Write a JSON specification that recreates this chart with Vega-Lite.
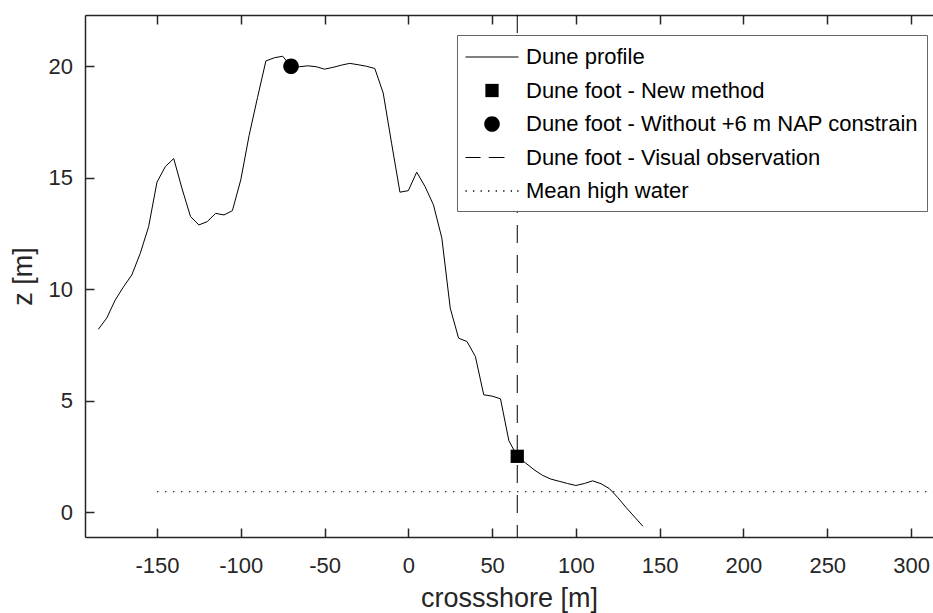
{
  "$schema": "https://vega.github.io/schema/vega-lite/v6.json",
  "width": 848,
  "height": 522,
  "autosize": {"type": "none"},
  "padding": {"left": 85, "top": 15, "right": 0, "bottom": 76},
  "background": "white",
  "config": {
    "view": {"stroke": null},
    "axis": {
      "labelFont": "Liberation Sans",
      "titleFont": "Liberation Sans",
      "labelFontSize": 22,
      "titleFontSize": 27,
      "titleFontWeight": "normal",
      "labelColor": "#262626",
      "titleColor": "#262626",
      "domainColor": "#262626",
      "tickColor": "#262626",
      "domainWidth": 1.5,
      "tickWidth": 1.5,
      "tickSize": -9,
      "grid": false
    }
  },
  "datasets": {
    "profile": [
      {"x": -185, "z": 8.2}, {"x": -180, "z": 8.7}, {"x": -175, "z": 9.5}, {"x": -170, "z": 10.1},
      {"x": -165, "z": 10.64}, {"x": -160, "z": 11.6}, {"x": -155, "z": 12.8}, {"x": -150, "z": 14.8},
      {"x": -145, "z": 15.5}, {"x": -140, "z": 15.86}, {"x": -135, "z": 14.5}, {"x": -130, "z": 13.26},
      {"x": -125, "z": 12.88}, {"x": -120, "z": 13.03}, {"x": -115, "z": 13.4}, {"x": -110, "z": 13.33},
      {"x": -105, "z": 13.52}, {"x": -100, "z": 14.9}, {"x": -95, "z": 16.9}, {"x": -90, "z": 18.6},
      {"x": -85, "z": 20.24}, {"x": -80, "z": 20.38}, {"x": -75, "z": 20.45}, {"x": -70, "z": 20.0},
      {"x": -65, "z": 19.98}, {"x": -60, "z": 20.02}, {"x": -55, "z": 19.98}, {"x": -50, "z": 19.87},
      {"x": -45, "z": 19.95}, {"x": -40, "z": 20.05}, {"x": -35, "z": 20.13}, {"x": -30, "z": 20.07},
      {"x": -25, "z": 20.0}, {"x": -20, "z": 19.9}, {"x": -15, "z": 18.8}, {"x": -10, "z": 16.55},
      {"x": -5, "z": 14.35}, {"x": 0, "z": 14.42}, {"x": 5, "z": 15.25}, {"x": 10, "z": 14.6},
      {"x": 15, "z": 13.78}, {"x": 20, "z": 12.29}, {"x": 25, "z": 9.15}, {"x": 30, "z": 7.8},
      {"x": 35, "z": 7.65}, {"x": 40, "z": 6.98}, {"x": 45, "z": 5.26}, {"x": 50, "z": 5.2},
      {"x": 55, "z": 5.08}, {"x": 60, "z": 3.2}, {"x": 65, "z": 2.5}, {"x": 70, "z": 2.2},
      {"x": 75, "z": 1.9}, {"x": 80, "z": 1.65}, {"x": 85, "z": 1.48}, {"x": 90, "z": 1.38},
      {"x": 95, "z": 1.28}, {"x": 100, "z": 1.19}, {"x": 105, "z": 1.28}, {"x": 110, "z": 1.4},
      {"x": 115, "z": 1.27}, {"x": 120, "z": 1.05}, {"x": 125, "z": 0.65}, {"x": 130, "z": 0.2},
      {"x": 135, "z": -0.22}, {"x": 140, "z": -0.64}
    ],
    "mhw": [{"x": -150, "x2": 313.1, "z": 0.91}],
    "visual": [{"x": 65}],
    "feet": [
      {"series": "Dune foot - New method", "x": 65, "z": 2.5},
      {"series": "Dune foot - Without +6 m NAP constrain", "x": -70, "z": 20.0}
    ]
  },
  "layer": [
    {
      "data": {"name": "profile"},
      "mark": {"type": "line", "color": "black", "strokeWidth": 1},
      "encoding": {
        "x": {"field": "x", "type": "quantitative",
          "scale": {"domain": [-192.95, 313.1], "nice": false, "zero": false},
          "axis": {"orient": "bottom", "title": "crossshore [m]", "values": [-150, -100, -50, 0, 50, 100, 150, 200, 250, 300], "labelPadding": 27, "titlePadding": 9, "labelExpr": "replace(datum.label, '\u2212', '-')"}},
        "y": {"field": "z", "type": "quantitative",
          "scale": {"domain": [-1.12, 22.3], "nice": false, "zero": false},
          "axis": {"title": "z [m]", "values": [0, 5, 10, 15, 20], "labelPadding": 21.5, "titlePadding": 11}}
      }
    },
    {
      "data": {"name": "mhw"},
      "mark": {"type": "rule", "color": "black", "strokeWidth": 1, "strokeDash": [1.5, 6.5]},
      "encoding": {
        "x": {"field": "x", "type": "quantitative", "scale": {"domain": [-192.95, 313.1], "nice": false, "zero": false}, "axis": null},
        "x2": {"field": "x2"},
        "y": {"field": "z", "type": "quantitative", "scale": {"domain": [-1.12, 22.3], "nice": false, "zero": false}}
      }
    },
    {
      "data": {"name": "visual"},
      "mark": {"type": "rule", "color": "black", "strokeWidth": 1, "strokeDash": [18, 12]},
      "encoding": {
        "x": {"field": "x", "type": "quantitative", "scale": {"domain": [-192.95, 313.1], "nice": false, "zero": false},
          "axis": {"orient": "top", "title": null, "labels": false, "values": [-150, -100, -50, 0, 50, 100, 150, 200, 250, 300]}}
      }
    },
    {
      "data": {"name": "feet"},
      "mark": {"type": "point", "filled": true, "color": "black", "size": 676, "opacity": 1},
      "encoding": {
        "x": {"field": "x", "type": "quantitative", "scale": {"domain": [-192.95, 313.1], "nice": false, "zero": false}, "axis": null},
        "y": {"field": "z", "type": "quantitative", "scale": {"domain": [-1.12, 22.3], "nice": false, "zero": false}},
        "shape": {
          "field": "series", "type": "nominal",
          "scale": {
            "domain": ["Dune profile", "Dune foot - New method", "Dune foot - Without +6 m NAP constrain", "Dune foot - Visual observation", "Mean high water"],
            "range": [
              "M-2.04,-0.04H2.04V0.04H-2.04Z",
              "M-0.51,-0.51H0.51V0.51H-0.51Z",
              "M-0.6,0A0.6,0.6,0,1,1,0.6,0A0.6,0.6,0,1,1,-0.6,0Z",
              "M-2.04,-0.04H-0.88V0.04H-2.04ZM-0.25,-0.04H0.96V0.04H-0.25Z",
              "M-2.04,-0.05H-1.94V0.05H-2.04ZM-1.46,-0.05H-1.36V0.05H-1.46ZM-0.88,-0.05H-0.78V0.05H-0.88ZM-0.3,-0.05H-0.2V0.05H-0.3ZM0.28,-0.05H0.38V0.05H0.28ZM0.86,-0.05H0.96V0.05H0.86ZM1.44,-0.05H1.54V0.05H1.44ZM1.94,-0.05H2.04V0.05H1.94Z"
            ]
          },
          "legend": {
            "title": null,
            "orient": "none",
            "legendX": 372,
            "legendY": 20,
            "labelFont": "Liberation Sans",
            "labelFontSize": 22,
            "labelColor": "black",
            "labelLimit": 600,
            "symbolSize": 676,
            "symbolOffset": 13,
            "labelOffset": 21,
            "padding": 9,
            "rowPadding": 9.5,
            "fillColor": "white",
            "strokeColor": "#666666",
            "symbolStrokeWidth": 0,
            "symbolFillColor": "black",
            "symbolOpacity": 1,
            "cornerRadius": 0
          }
        }
      }
    }
  ],
  "resolve": {"axis": {"x": "independent"}}
}
